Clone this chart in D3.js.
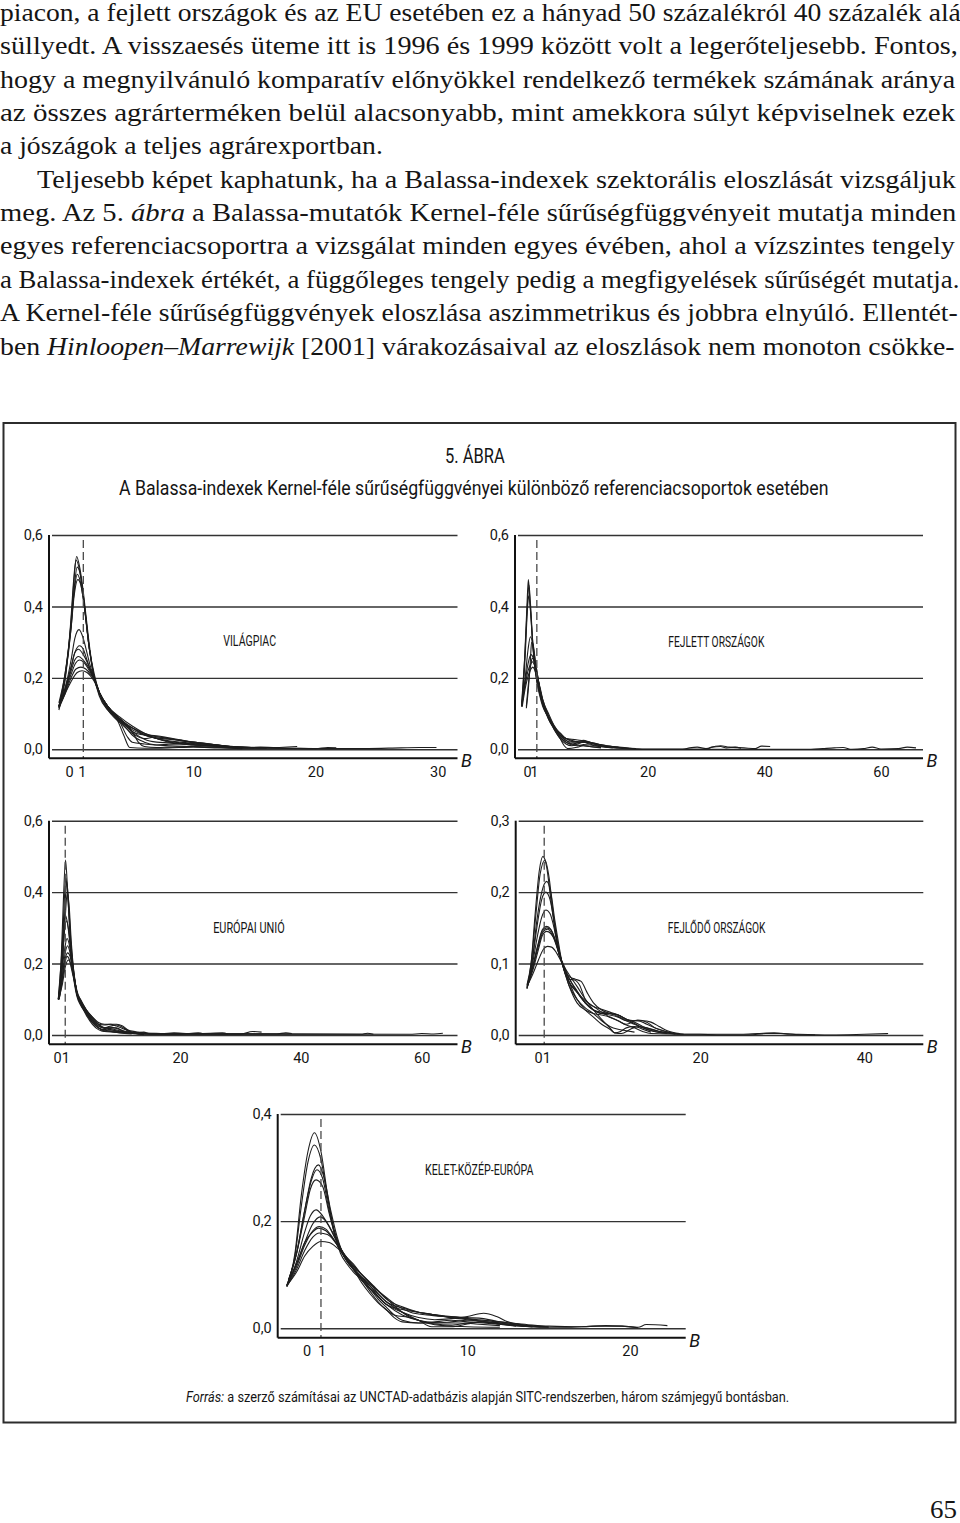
<!DOCTYPE html>
<html>
<head>
<meta charset="utf-8">
<script src="https://cdn.jsdelivr.net/npm/d3@7"></script>
<style>
  body { margin: 0; background: #fff; }
  svg { display: block; }
</style>
</head>
<body>
<script>
// ---- text of the page ----
const bodyLines = [
  [["piacon, a fejlett országok és az EU esetében ez a hányad 50 százalékról 40 százalék alá"]],
  [["süllyedt. A visszaesés üteme itt is 1996 és 1999 között volt a legerőteljesebb. Fontos,"]],
  [["hogy a megnyilvánuló komparatív előnyökkel rendelkező termékek számának aránya"]],
  [["az összes agrárterméken belül alacsonyabb, mint amekkora súlyt képviselnek ezek"]],
  [["a jószágok a teljes agrárexportban."]],
  [["Teljesebb képet kaphatunk, ha a Balassa-indexek szektorális eloszlását vizsgáljuk"]],
  [["meg. Az 5. "], ["ábra", true], [" a Balassa-mutatók Kernel-féle sűrűségfüggvényeit mutatja minden"]],
  [["egyes referenciacsoportra a vizsgálat minden egyes évében, ahol a vízszintes tengely"]],
  [["a Balassa-indexek értékét, a függőleges tengely pedig a megfigyelések sűrűségét mutatja."]],
  [["A Kernel-féle sűrűségfüggvények eloszlása aszimmetrikus és jobbra elnyúló. Ellentét-"]],
  [["ben "], ["Hinloopen–Marrewijk", true], [" [2001] várakozásaival az eloszlások nem monoton csökke-"]]
];
const figureNumber = "5. ÁBRA";
const figureTitle = "A Balassa-indexek Kernel-féle sűrűségfüggvényei különböző referenciacsoportok esetében";
const sourceNote = [["Forrás:", true], [" a szerző számításai az UNCTAD-adatbázis alapján SITC-rendszerben, három számjegyű bontásban."]];
const pageNumber = "65";

// ---- panel names and ticks ----
const panelNames = ["VILÁGPIAC", "FEJLETT ORSZÁGOK", "EURÓPAI UNIÓ", "FEJLŐDŐ ORSZÁGOK", "KELET-KÖZÉP-EURÓPA"];
const vilagpiacXTicks = [0, 1, 10, 20, 30];
const fejlettXTicks = [0, 1, 20, 40, 60];
const euXTicks = [0, 1, 20, 40, 60];
const fejlodoXTicks = [0, 1, 20, 40];
const kkeXTicks = [0, 1, 10, 20];
const yTicks06 = [0, 0.2, 0.4, 0.6];
const yTicks03 = [0, 0.1, 0.2, 0.3];
const yTicks04 = [0, 0.2, 0.4];

// ---- kernel density curves, [B, density] ----
const vilagpiacCurves = [
  [[-1,.12],[-.5,.2],[0,.36],[.25,.48],[.45,.54],[.7,.51],[1,.44],[1.2,.38],[1.5,.29],[1.9,.2],[2.3,.16],[3,.115],[3.5,.1],[4,.085],[5,.055],[6,.04],[7,.032],[8,.028],[9,.024],[10,.018],[11,.014],[12,.012],[13,.006],[14,.003],[16,.004],[18.5,.008]],
  [[-1,.11],[-.5,.19],[0,.37],[.2,.47],[.4,.53],[.7,.5],[1,.43],[1.2,.37],[1.5,.28],[1.9,.2],[2.3,.15],[3,.11],[3.45,.095],[3.8,.08],[4.3,.04],[4.8,.005],[6,.003],[8,.004],[10,.006],[12,.004],[14,.002]],
  [[-1,.12],[-.5,.2],[0,.34],[.25,.45],[.5,.51],[.75,.49],[1,.43],[1.2,.37],[1.5,.28],[1.9,.2],[2.3,.155],[3,.11],[3.5,.09],[4,.075],[5,.045],[6,.03],[7,.035],[8,.03],[9,.025],[10,.02],[11.5,.014],[12.5,.01],[14,.004],[15.5,.006],[17,.004]],
  [[-1,.12],[-.5,.21],[0,.35],[.25,.44],[.5,.49],[.75,.47],[1,.42],[1.5,.28],[1.9,.2],[2.3,.16],[3,.12],[4,.085],[5,.05],[6,.028],[7,.02],[8,.018],[10,.012],[12,.009],[14,.006],[16,.004],[18,.003],[20,.002],[21,.005],[21.7,.004]],
  [[-1,.13],[-.5,.21],[0,.34],[.25,.43],[.55,.475],[.8,.46],[1,.42],[1.5,.28],[1.9,.21],[2.3,.16],[3,.12],[4,.08],[4.5,.06],[5,.04],[6,.02],[7,.012],[8,.01],[10,.008],[13,.004],[16,.003],[20,.002],[24,.002],[27,.004],[28.5,.005],[29.9,.005]],
  [[-1,.12],[-.5,.17],[0,.25],[.3,.31],[.65,.335],[1,.31],[1.3,.27],[1.6,.23],[1.9,.2],[2.3,.16],[3,.12],[3.5,.1],[4,.08],[5,.06],[6,.045],[7,.035],[8,.03],[9,.025],[10,.02],[11,.017],[12,.012],[13,.008],[14,.005]],
  [[-1,.12],[-.5,.16],[0,.23],[.35,.275],[.7,.29],[1,.28],[1.3,.25],[1.6,.22],[1.9,.195],[2.3,.16],[3,.115],[4,.08],[4.5,.065],[5,.05],[6,.04],[7,.038],[8,.032],[9,.026],[10,.02],[12,.012],[14,.006],[15,.004]],
  [[-1,.115],[-.5,.17],[0,.23],[.3,.27],[.6,.28],[1,.265],[1.5,.23],[1.9,.2],[2.3,.16],[3,.12],[3.45,.098],[4,.075],[4.6,.035],[5,.02],[6,.015],[7,.012],[8,.014],[9,.015],[10,.013],[11.5,.01],[13,.005]],
  [[-1,.12],[-.5,.165],[0,.22],[.3,.25],[.6,.26],[1,.25],[1.5,.225],[1.9,.195],[2.3,.16],[3,.115],[4,.085],[5,.06],[6,.04],[7,.03],[8,.022],[9,.018],[10,.015],[12,.01],[13,.007],[15,.005]],
  [[-1,.12],[-.5,.16],[0,.21],[.35,.24],[.7,.25],[1,.245],[1.5,.22],[1.9,.195],[2.3,.16],[3,.12],[4,.09],[5,.065],[6,.045],[7,.03],[8,.024],[9,.02],[10,.016],[11,.014],[12,.01],[14,.006],[16,.003]],
  [[-1,.115],[-.5,.155],[0,.2],[.4,.225],[.8,.23],[1.2,.225],[1.6,.21],[1.9,.195],[2.3,.16],[3,.12],[4,.085],[5,.05],[5.5,.02],[6,.008],[7,.005],[8,.006],[10,.008],[12,.006],[14,.003]],
  [[-1,.12],[-.5,.155],[0,.19],[.5,.215],[.9,.22],[1.3,.215],[1.6,.205],[1.9,.19],[2.3,.16],[3,.12],[4,.08],[5,.06],[6,.042],[7,.03],[8,.02],[9,.016],[10,.012],[11,.01],[12,.008]]
];

const fejlettCurves = [
  [[-1.6,.12],[-1.1,.25],[-.7,.4],[-.45,.475],[-.2,.42],[.2,.32],[.6,.24],[1,.19],[1.5,.15],[2,.12],[3,.09],[4,.06],[5,.04],[6,.025],[7,.02],[8,.022],[9,.025],[10,.02],[11,.016],[12,.012],[13,.01],[14,.008],[15,.006],[16,.005],[17,.003],[18,.001],[20,0],[26,0],[27.2,.004],[28.5,.006],[30,.002],[31.5,.008],[32.5,.01],[34,.006],[36.5,.004],[38.5,.002],[39.5,.009],[41,.008]],
  [[-1.6,.13],[-1,.28],[-.6,.41],[-.35,.46],[-.1,.41],[.3,.3],[.7,.23],[1,.2],[1.5,.16],[2,.13],[3,.085],[4,.055],[5,.03],[6,.015],[7,.01],[8,.015],[9,.02],[10,.018],[12,.01],[14,.006],[16,.003],[20,0],[48,0],[50,.002],[52,.004],[53.5,.005],[55,0],[57,.002],[58.5,.006],[60,.001],[63,.002],[64.5,.006],[66,.004]],
  [[-1.5,.12],[-1,.26],[-.65,.38],[-.4,.43],[-.1,.39],[.3,.29],[.8,.21],[1.5,.155],[2,.125],[3,.085],[4,.058],[5,.035],[6,.02],[7,.012],[8,.01],[9,.013],[10,.012],[12,.007],[15,.003],[20,0],[30,0],[31,.006],[32.5,.008],[33.5,.004],[35,.006],[36,.003]],
  [[-1.6,.12],[-1,.2],[-.5,.28],[-.1,.315],[.3,.295],[.7,.25],[1,.22],[1.5,.17],[2,.135],[3,.09],[4,.06],[5,.04],[6,.03],[7,.025],[8,.02],[9,.02],[10,.018],[11,.015],[12,.01],[14,.006],[16,.004],[18,.002]],
  [[-.8,.115],[-.5,.16],[-.1,.25],[.1,.3],[.4,.29],[.8,.24],[1.2,.2],[1.6,.16],[2,.13],[3,.09],[4,.055],[5,.03],[5.7,.01],[6.3,.002],[8,.006],[9,.01],[10,.008],[12,.004]],
  [[-1.6,.125],[-1,.19],[-.5,.24],[0,.265],[.4,.255],[.8,.225],[1.2,.195],[1.6,.16],[2,.13],[3,.09],[4,.06],[5,.045],[6,.03],[7,.028],[8,.026],[9,.024],[10,.02],[11,.017],[12,.013],[13,.01],[14,.008],[15,.006]],
  [[-.8,.12],[-.4,.19],[0,.24],[.2,.255],[.5,.25],[.9,.22],[1.3,.19],[1.6,.165],[2,.135],[3,.09],[4,.06],[5,.035],[6,.02],[7,.015],[8,.018],[9,.02],[10,.015],[12,.008],[14,.004]],
  [[-1.6,.12],[-1,.18],[-.5,.22],[0,.24],[.2,.245],[.6,.235],[1,.21],[1.5,.17],[2,.14],[3,.095],[4,.065],[5,.04],[6,.025],[7,.015],[8,.012],[10,.008],[12,.005]],
  [[-1.5,.12],[-1,.17],[-.4,.21],[0,.225],[.3,.23],[.7,.22],[1.1,.2],[1.6,.17],[2,.14],[3,.1],[4,.065],[5,.045],[6,.03],[7,.022],[8,.02],[9,.022],[10,.02],[11,.014],[12,.01]]
];

const euCurves = [
  [[-.15,.1],[.3,.2],[.7,.38],[1.05,.49],[1.4,.4],[1.8,.28],[2.2,.19],[2.9,.11],[3.5,.085],[4.5,.06],[5.5,.035],[6.5,.02],[7.5,.015],[8.5,.02],[9.5,.02],[10.5,.01],[12,.004],[14,.001]],
  [[-.1,.1],[.4,.2],[.8,.36],[1.1,.44],[1.45,.38],[1.8,.28],[2.2,.2],[2.9,.115],[3.5,.09],[4.5,.065],[5.5,.04],[6.5,.025],[7.5,.02],[8.5,.025],[9.5,.028],[10.5,.022],[11.5,.01],[12.5,.005],[14,.003],[16,.005],[18,.002]],
  [[-.15,.1],[.5,.2],[.9,.34],[1.25,.43],[1.55,.37],[1.9,.27],[2.3,.19],[2.9,.12],[3.5,.09],[4.5,.055],[5.5,.03],[6.5,.015],[7.5,.01],[8.5,.012],[10,.01],[12,.005],[14,.008],[15,.003],[20,.002],[23,.006],[24,.003]],
  [[0,.1],[.5,.19],[1,.33],[1.35,.4],[1.65,.36],[2,.26],[2.4,.18],[2.9,.12],[3.5,.09],[4.5,.06],[5.5,.04],[6.5,.03],[7.5,.028],[8.5,.03],[9.5,.03],[10.5,.025],[11.5,.012],[12.5,.005],[14,.002]],
  [[-.15,.1],[.3,.2],[.7,.3],[1,.335],[1.4,.31],[1.8,.25],[2.2,.19],[2.9,.115],[3.5,.09],[4.5,.065],[5.5,.045],[6.5,.03],[7.5,.02],[8.5,.018],[10,.012],[12,.006],[14,.004],[17,.004],[19,.006],[21,.004]],
  [[-.1,.1],[.4,.19],[.8,.28],[1.2,.32],[1.6,.29],[2,.23],[2.4,.18],[2.9,.12],[3.5,.095],[4.5,.07],[5.5,.05],[6.5,.03],[7.5,.018],[8.5,.015],[10,.01],[12,.008],[14,.005],[16,.003],[20,.004],[25,.005],[27,.006],[28,.002]],
  [[-.1,.1],[.4,.17],[.9,.24],[1.3,.27],[1.7,.25],[2.1,.2],[2.5,.16],[2.9,.12],[3.5,.09],[4.5,.06],[5.5,.035],[6.5,.02],[7.5,.012],[8.5,.01],[10,.008],[13,.004],[15,.002],[30,.002],[32,.01],[33.5,.008]],
  [[0,.1],[.5,.16],[1,.23],[1.4,.25],[1.8,.23],[2.2,.19],[2.6,.15],[2.9,.12],[3.5,.1],[4.5,.07],[5.5,.045],[6.5,.025],[7.5,.02],[8.5,.022],[9.5,.018],[11,.01],[13,.006],[15,.003],[36,.003],[37.5,.006],[38.5,.004]],
  [[-.15,.1],[.4,.15],[1,.215],[1.4,.23],[1.8,.22],[2.2,.185],[2.6,.15],[3,.12],[3.5,.1],[4.5,.07],[5.5,.05],[6.5,.035],[7.5,.03],[8.5,.03],[9.5,.025],[11,.015],[13,.008],[16,.004],[50,.002],[51,.005],[52,.002]],
  [[0,.1],[.5,.15],[1,.205],[1.3,.22],[1.7,.21],[2.1,.18],[2.5,.15],[3,.115],[3.5,.095],[4.5,.065],[5.5,.04],[6.5,.02],[7.5,.01],[9,.008],[11,.006],[14,.003],[58,.002],[60,.004],[62,.003],[63.5,.005]],
  [[-.1,.1],[.5,.14],[1,.19],[1.5,.21],[1.9,.2],[2.3,.17],[2.7,.14],[3,.115],[3.5,.095],[4.5,.06],[5.5,.035],[6.5,.02],[8,.012],[10,.006],[12,.003]]
];

const fejlodoCurves = [
  [[-1.1,.065],[-.6,.1],[-.1,.17],[.4,.23],[.85,.25],[1.3,.235],[1.8,.19],[2.4,.14],[3.2,.1],[4,.07],[5,.045],[6,.035],[7,.03],[8,.028],[9,.025],[10,.02],[11,.014],[12,.01],[13,.005],[14,.002],[18,.001],[20,.001],[22,0],[26,0],[28,.002],[30,.002],[32,.001],[36,0],[40,.001],[42.9,.002]],
  [[-1.1,.07],[-.6,.1],[0,.17],[.5,.225],[1.1,.245],[1.6,.22],[2.1,.17],[2.6,.13],[3.2,.1],[4,.075],[5,.06],[6,.045],[7,.035],[8,.03],[9,.03],[10,.028],[11,.022],[12,.018],[13,.012],[14,.008],[15.5,.004],[17,.001]],
  [[-1,.07],[-.5,.1],[.1,.16],[.7,.2],[1.3,.215],[1.8,.2],[2.3,.16],[2.8,.125],[3.2,.1],[4,.078],[4.7,.077],[5.3,.07],[6,.05],[7,.04],[8,.032],[9,.025],[10,.02],[11,.015],[12.4,.021],[13.5,.018],[14.5,.01],[16,.004],[17.5,.001],[21,.001],[25,.001],[27,.002],[29,.003],[31,.001],[34,0]],
  [[-1.1,.068],[-.5,.1],[.1,.15],[.7,.19],[1.2,.2],[1.7,.19],[2.2,.16],[2.7,.125],[3.2,.1],[4,.075],[5,.05],[6,.035],[7,.025],[8,.015],[9,.008],[9.6,.003],[10.4,.002],[11.5,.008],[12.5,.012],[13.5,.01],[15,.005],[17,.002]],
  [[-1,.07],[-.5,.095],[.2,.14],[.7,.165],[1.2,.175],[1.7,.17],[2.2,.15],[2.7,.12],[3.2,.1],[4,.08],[5,.06],[6,.045],[7,.035],[8,.03],[9,.028],[10,.025],[11,.02],[12.4,.02],[13.5,.015],[15,.008],[16.5,.003],[18,.001]],
  [[-1.1,.065],[-.5,.09],[.2,.125],[.8,.148],[1.3,.152],[1.8,.148],[2.3,.135],[2.8,.115],[3.2,.1],[4,.082],[4.8,.078],[5.5,.075],[6.2,.06],[7,.045],[8,.035],[9,.03],[10,.026],[11,.02],[12,.015],[13,.01],[14,.006],[16,.002]],
  [[-1,.07],[-.4,.095],[.3,.128],[.8,.146],[1.3,.15],[1.8,.147],[2.4,.13],[2.9,.11],[3.2,.1],[4,.075],[5,.06],[6,.048],[7,.04],[8,.036],[9,.032],[10,.028],[11,.022],[12,.016],[13,.01],[14.5,.005],[16,.002]],
  [[-1.1,.066],[-.5,.09],[.2,.12],[.9,.145],[1.4,.148],[1.9,.142],[2.4,.128],[2.9,.11],[3.2,.1],[4,.07],[5,.05],[6,.038],[7,.03],[8,.02],[9,.012],[10,.008],[11,.006],[12,.004]],
  [[-1,.07],[-.4,.09],[.3,.12],[.8,.14],[1.3,.145],[1.8,.142],[2.4,.13],[2.9,.11],[3.3,.1],[4,.08],[5,.062],[6,.045],[7,.035],[8,.032],[9,.03],[10,.028],[11,.022],[12,.02],[13,.02],[14,.018],[15,.012],[16,.006],[17.5,.002]],
  [[-1.1,.068],[-.4,.085],[.3,.105],[.9,.12],[1.4,.124],[1.9,.123],[2.5,.115],[3.2,.1],[4,.085],[5,.068],[6,.05],[7,.035],[8,.022],[9,.01],[9.6,.003],[10.3,.005],[11,.01],[12,.012],[13,.008],[14,.004]]
];

const kkeCurves = [
  [[-1.1,.078],[-.6,.14],[-.2,.25],[.2,.33],[.6,.365],[1,.33],[1.4,.25],[1.8,.18],[2.2,.14],[2.6,.12],[3,.105],[3.5,.09],[4,.07],[4.5,.05],[5,.035],[5.5,.025],[6.5,.02],[7.5,.01],[8.5,.005],[10,.003],[12,.002]],
  [[-1.1,.08],[-.6,.135],[-.2,.23],[.2,.31],[.6,.342],[1,.315],[1.4,.245],[1.8,.185],[2.2,.15],[2.6,.125],[3,.11],[3.5,.095],[4,.08],[4.5,.06],[5,.045],[6,.03],[7,.02],[8,.016],[9,.018],[10,.022],[11,.028],[11.8,.022],[12.5,.012],[13.5,.006],[15,.002]],
  [[-1,.09],[-.5,.14],[0,.22],[.4,.28],[.85,.305],[1.2,.28],[1.6,.22],[2,.17],[2.5,.13],[3,.11],[3.5,.09],[4,.075],[4.5,.06],[5,.045],[6,.035],[7,.03],[8,.025],[9,.022],[10,.02],[11,.018],[12,.012],[13,.008],[14,.004]],
  [[-1.1,.08],[-.5,.14],[0,.22],[.4,.275],[.75,.296],[1.1,.28],[1.5,.22],[1.9,.17],[2.3,.14],[2.8,.12],[3.3,.1],[3.8,.085],[4.3,.07],[5,.05],[6,.03],[7,.015],[7.8,.003],[9,.003],[10,.008],[11,.012],[12,.01],[13,.006],[14,.003]],
  [[-1,.09],[-.5,.14],[0,.21],[.35,.26],[.7,.277],[1.1,.265],[1.5,.215],[1.9,.17],[2.4,.135],[3,.11],[3.5,.085],[4,.065],[4.5,.048],[5,.035],[5.5,.02],[6,.012],[7,.01],[8,.012],[9,.015],[10,.012],[11,.01],[12.5,.006],[14,.003]],
  [[-1.1,.078],[-.5,.125],[0,.18],[.35,.21],[.7,.221],[1.1,.21],[1.5,.19],[2,.16],[2.5,.135],[3,.12],[3.5,.1],[4,.085],[4.5,.065],[5,.05],[6,.038],[7,.03],[8,.025],[9,.02],[10,.016],[11,.012],[12,.008],[13,.005],[14.5,.002],[16,.002],[18,.004],[19.5,.004],[20.5,.001]],
  [[-1,.09],[-.5,.12],[0,.16],[.5,.195],[.95,.208],[1.3,.2],[1.7,.18],[2.2,.15],[2.8,.12],[3.3,.1],[3.8,.08],[4.3,.065],[5,.045],[6,.025],[7,.015],[8,.008],[9,.006],[10,.01],[11,.012],[12,.008],[13,.004]],
  [[-1.1,.08],[-.5,.115],[0,.155],[.5,.182],[.9,.19],[1.3,.185],[1.7,.17],[2.2,.145],[2.7,.125],[3.2,.11],[3.7,.095],[4.2,.08],[4.7,.065],[5.3,.048],[6,.03],[6.5,.02],[7.5,.012],[8.5,.01],[9.5,.01],[10.5,.008],[12,.005]],
  [[-1,.085],[-.5,.12],[0,.16],[.5,.18],[.85,.187],[1.3,.182],[1.8,.165],[2.3,.14],[2.8,.118],[3.3,.1],[3.8,.088],[4.3,.075],[5,.058],[5.8,.04],[6.5,.03],[7.5,.025],[8.5,.022],[9.5,.02],[10.5,.015],[11.5,.01],[13,.006],[14,.004],[15,.003]],
  [[-1.1,.078],[-.5,.11],[0,.145],[.5,.17],[.9,.178],[1.4,.175],[1.9,.16],[2.4,.14],[3,.115],[3.5,.095],[4,.075],[4.5,.055],[5,.04],[5.5,.025],[6,.015],[7,.01],[8,.01],[9,.012],[10,.015],[11,.015],[12,.01],[13,.006],[14.5,.003]],
  [[-1.1,.08],[-.5,.105],[0,.135],[.5,.153],[1,.162],[1.5,.16],[2,.15],[2.5,.135],[3,.118],[3.5,.1],[4,.085],[4.5,.07],[5,.055],[6,.04],[7,.03],[8,.025],[9,.02],[10,.018],[11,.015],[12,.012],[13,.009],[14,.006],[15,.004],[17,.003],[18.5,.005],[19.5,.004],[20.5,.002],[21,.007],[22.3,.005]]
];

// ---- page setup ----
const W = 960, H = 1523;
const serif = "'Liberation Serif', 'DejaVu Serif', serif";
const narrow = "'Liberation Sans Narrow', 'Roboto', 'Open Sans', sans-serif";
const ink = "#151515";

const svg = d3.select("body").append("svg")
  .attr("width", W)
  .attr("height", H);

// writes [text, italic] pieces and squeezes/stretches them to an exact width
function fitText(parent, pieces, opts) {
  const t = parent.append("text")
    .attr("font-family", opts.family)
    .attr("font-size", opts.size)
    .attr("fill", ink)
    .style("white-space", "pre");
  pieces.forEach(p => {
    t.append("tspan").text(p[0]).attr("font-style", p[1] ? "italic" : null);
  });
  const w = t.node().getBBox().width;
  const k = opts.width / w;
  let x0 = opts.x;
  if (opts.anchor === "middle") x0 = opts.x - opts.width / 2;
  if (opts.anchor === "end") x0 = opts.x - opts.width;
  t.attr("transform", `translate(${x0},${opts.y}) scale(${k},1)`);
  return t;
}

// ---- body text above the figure ----
const bodyLeft = [0, 0, 0, 0, 0, 37, 0, 0, 0, 0, 0];
const bodyRight = [961, 958, 956, 956, 383, 957, 957, 956, 960, 958, 955];
bodyLines.forEach((line, i) => {
  fitText(svg, line, {
    family: serif, size: 25,
    x: bodyLeft[i], y: 21 + i * 33.35,
    width: bodyRight[i] - bodyLeft[i]
  });
});

// ---- figure frame and headings ----
svg.append("rect")
  .attr("x", 3.5).attr("y", 423)
  .attr("width", 952).attr("height", 999.5)
  .attr("fill", "none")
  .attr("stroke", "#2c2c2c")
  .attr("stroke-width", 2);

fitText(svg, [[figureNumber]], { family: narrow, size: 21, x: 475, y: 463, width: 60, anchor: "middle" });
fitText(svg, [[figureTitle]], { family: narrow, size: 21, x: 119, y: 495, width: 710 });
fitText(svg, sourceNote, { family: narrow, size: 15.5, x: 186, y: 1402, width: 604 });
fitText(svg, [[pageNumber]], { family: serif, size: 26, x: 957, y: 1518, width: 27, anchor: "end" });

// ---- panels ----
const fmtY = d => d3.format(".1f")(d).replace(".", ",");

class Panel {
  constructor(cfg) {
    this.cfg = cfg;
    this.g = svg.append("g").attr("class", "panel");
    this.x = d3.scaleLinear().domain(cfg.xDomain).range(cfg.xRange);
    this.y = d3.scaleLinear().domain([0, cfg.yMax]).range([cfg.zeroY, cfg.topY]);

    this.drawGrid();
    this.drawCurves();
    this.drawAxes();
    this.drawLabel();
  }

  drawGrid() {
    const c = this.cfg;
    const grid = this.g.append("g")
      .attr("transform", `translate(${c.left},0)`)
      .call(d3.axisLeft(this.y)
        .tickValues(c.yTicks)
        .tickFormat(fmtY)
        .tickSize(-(c.right - c.left))
        .tickPadding(6));
    grid.select(".domain").remove();
    grid.selectAll(".tick line")
      .attr("x1", 3)
      .attr("stroke", "#333")
      .attr("stroke-width", 1.4);
    grid.selectAll(".tick text")
      .attr("font-family", narrow)
      .attr("font-size", 14.5)
      .attr("fill", ink);
  }

  drawCurves() {
    const line = d3.line()
      .x(d => this.x(d[0]))
      .y(d => this.y(d[1]))
      .curve(d3.curveMonotoneX);

    this.g.append("g")
      .selectAll("path")
      .data(this.cfg.curves)
      .enter().append("path")
      .attr("d", line)
      .attr("fill", "none")
      .attr("stroke", "#1e1e1e")
      .attr("stroke-width", 1.1);

    // reference line at B = 1
    this.g.append("line")
      .attr("x1", this.x(1)).attr("x2", this.x(1))
      .attr("y1", this.cfg.topY + 5).attr("y2", this.cfg.axisY)
      .attr("stroke", "#4a4a4a")
      .attr("stroke-width", 1.3)
      .attr("stroke-dasharray", "8,4");
  }

  drawAxes() {
    const c = this.cfg;
    const xa = this.g.append("g")
      .attr("transform", `translate(0,${c.axisY})`)
      .call(d3.axisBottom(this.x)
        .tickValues(c.xTicks)
        .tickSize(0)
        .tickPadding(8));
    xa.select(".domain").remove();
    xa.selectAll(".tick text")
      .attr("dx", d => c.nudge[d] || 0)
      .attr("font-family", narrow)
      .attr("font-size", 14.5)
      .attr("fill", ink);

    this.g.append("line")
      .attr("x1", c.left).attr("x2", c.left)
      .attr("y1", c.topY).attr("y2", c.axisY)
      .attr("stroke", "#111").attr("stroke-width", 2);
    this.g.append("line")
      .attr("x1", c.left).attr("x2", c.right)
      .attr("y1", c.axisY).attr("y2", c.axisY)
      .attr("stroke", "#111").attr("stroke-width", 2);

    this.g.append("text")
      .attr("x", c.right + 9).attr("y", c.axisY + 9)
      .attr("text-anchor", "middle")
      .attr("font-family", narrow)
      .attr("font-style", "italic")
      .attr("font-size", 18)
      .attr("fill", ink)
      .text("B");
  }

  drawLabel() {
    const c = this.cfg;
    fitText(this.g, [[c.name]], { family: narrow, size: 14.5, x: c.labelX, y: c.labelY, width: c.labelW, anchor: "middle" });
  }
}

const panels = [
  { name: panelNames[0], curves: vilagpiacCurves, xTicks: vilagpiacXTicks, yTicks: yTicks06, yMax: 0.6,
    xDomain: [0, 30], xRange: [71.1, 437.7], left: 49, right: 457.5,
    zeroY: 749.3, topY: 535, axisY: 758.3, nudge: { 0: -2, 1: -1.5 },
    labelX: 249.7, labelY: 646, labelW: 53 },
  { name: panelNames[1], curves: fejlettCurves, xTicks: fejlettXTicks, yTicks: yTicks06, yMax: 0.6,
    xDomain: [0, 60], xRange: [531, 881], left: 515, right: 923,
    zeroY: 749.3, topY: 535, axisY: 758.3, nudge: { 0: -4, 1: -3 },
    labelX: 716.7, labelY: 647, labelW: 96.7 },
  { name: panelNames[2], curves: euCurves, xTicks: euXTicks, yTicks: yTicks06, yMax: 0.6,
    xDomain: [0, 60], xRange: [59.2, 421.7], left: 49, right: 457.5,
    zeroY: 1035, topY: 820.7, axisY: 1044.3, nudge: { 0: -2, 1: 0 },
    labelX: 249, labelY: 933, labelW: 71.7 },
  { name: panelNames[3], curves: fejlodoCurves, xTicks: fejlodoXTicks, yTicks: yTicks03, yMax: 0.3,
    xDomain: [0, 40], xRange: [536, 864.3], left: 515.7, right: 923.3,
    zeroY: 1035, topY: 820.7, axisY: 1044.3, nudge: { 0: 2, 1: 2 },
    labelX: 717, labelY: 933, labelW: 98.3 },
  { name: panelNames[4], curves: kkeCurves, xTicks: kkeXTicks, yTicks: yTicks04, yMax: 0.4,
    xDomain: [0, 20], xRange: [304.7, 630], left: 277.7, right: 685.7,
    zeroY: 1328.3, topY: 1114, axisY: 1337.7, nudge: { 0: 2, 1: 0.5 },
    labelX: 479.5, labelY: 1175, labelW: 109 }
];

panels.forEach(cfg => new Panel(cfg));
</script>
</body>
</html>
